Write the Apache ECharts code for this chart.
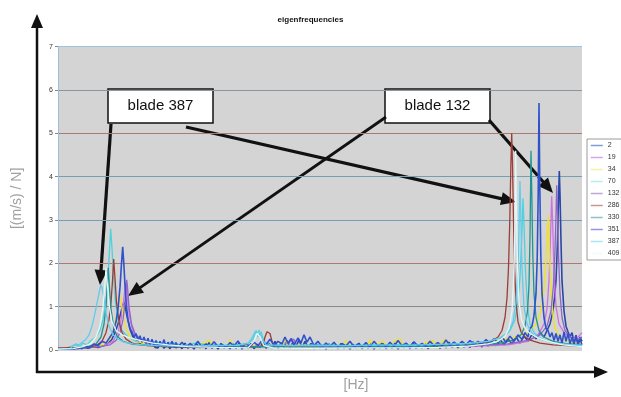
<!DOCTYPE html>
<html>
<head>
<meta charset="utf-8">
<script src="https://cdn.jsdelivr.net/npm/echarts@6/dist/echarts.min.js"></script>
<style>html,body{margin:0;padding:0;background:#fff;}#c{width:621px;height:397px;}</style>
</head>
<body>
<div id="c"></div>
<script>
// ---- data (x = frequency position, y = [(m/s)/N]) ----
const seriesNames = ['2','19','34','70','132','286','330','351','387','409'];
const yTicks = [0,1,2,3,4,5,6,7];

const s2 = [[0,0.02],[5,0.03],[10,0.02],[15,0.04],[20,0.03],[25,0.07],[30,0.04],[35,0.08],[40,0.06],[45,0.1],[50,0.15],[54,0.25],[57,0.4],[60,0.6],[63,0.88],[65,1.05],[66,1.1],[67,1.02],[69,0.78],[72,0.48],[75,0.3],[78,0.24],[82,0.15],[86,0.22],[90,0.1],[94,0.2],[97,0.06],[100,0.05],[103,0.16],[106,0.04],[109,0.14],[112,0.03],[115,0.15],[118,0.05],[121,0.12],[124,0.03],[127,0.16],[130,0.04],[133,0.11],[136,0.02],[139,0.14],[142,0.05],[145,0.13],[148,0.03],[151,0.17],[154,0.04],[157,0.12],[160,0.02],[163,0.15],[166,0.05],[169,0.11],[172,0.03],[175,0.14],[178,0.04],[181,0.16],[184,0.02],[187,0.12],[190,0.05],[193,0.15],[196,0.03],[199,0.13],[202,0.06],[205,0.18],[208,0.04],[211,0.15],[214,0.05],[217,0.2],[220,0.04],[223,0.16],[226,0.06],[229,0.22],[232,0.05],[235,0.18],[238,0.07],[241,0.24],[244,0.05],[247,0.2],[250,0.06],[253,0.15],[256,0.03],[259,0.13],[262,0.04],[265,0.11],[268,0.02],[271,0.14],[274,0.05],[277,0.12],[280,0.03],[283,0.15],[286,0.04],[289,0.11],[292,0.02],[295,0.13],[298,0.05],[301,0.16],[304,0.03],[307,0.12],[310,0.04],[313,0.14],[316,0.02],[319,0.11],[322,0.05],[325,0.15],[328,0.03],[331,0.13],[334,0.04],[337,0.16],[340,0.02],[343,0.12],[346,0.05],[349,0.14],[352,0.03],[355,0.17],[358,0.04],[361,0.12],[364,0.05],[367,0.15],[370,0.03],[373,0.13],[376,0.06],[379,0.16],[382,0.04],[385,0.14],[388,0.05],[391,0.18],[394,0.06],[397,0.13],[400,0.05],[403,0.17],[406,0.07],[409,0.15],[412,0.06],[415,0.19],[418,0.08],[421,0.16],[424,0.07],[427,0.2],[430,0.09],[434,0.22],[438,0.1],[442,0.24],[446,0.12],[450,0.26],[454,0.14],[458,0.3],[462,0.16],[466,0.32],[470,0.2],[474,0.36],[478,0.26],[482,0.4],[486,0.3],[489,0.45],[492,0.6],[494.5,0.85],[496.5,1.2],[498,1.6],[499.5,2.5],[500.5,3.5],[501.3,4.13],[502,3.6],[503,2.5],[504,1.6],[506,0.9],[508,0.55],[510,0.42],[512,0.3],[514,0.4],[516,0.2],[518,0.34],[520,0.16],[522,0.3],[524,0.2]];

const s19 = [[0,0.03],[15,0.05],[30,0.07],[45,0.1],[55,0.2],[60,0.4],[63,0.7],[65.5,1.1],[67.5,1.55],[69,1.3],[71,0.85],[74,0.5],[78,0.3],[85,0.2],[95,0.12],[110,0.09],[140,0.08],[170,0.07],[200,0.09],[215,0.06],[235,0.22],[238,0.1],[260,0.07],[300,0.08],[340,0.07],[380,0.08],[420,0.09],[450,0.12],[470,0.2],[480,0.35],[486,0.6],[489,0.95],[491,1.6],[492.5,2.6],[493.7,3.55],[494.7,2.9],[496,1.8],[498,1.0],[501,0.6],[506,0.4],[512,0.3],[518,0.25],[522,0.35],[524,0.4]];

const s34 = [[0,0.03],[20,0.06],[35,0.08],[45,0.12],[52,0.25],[56,0.5],[59,0.85],[61,1.15],[62,1.27],[63,1.15],[65,0.8],[68,0.5],[72,0.3],[78,0.2],[88,0.14],[100,0.1],[115,0.12],[125,0.08],[140,0.1],[152,0.22],[154,0.09],[170,0.1],[172,0.24],[175,0.1],[200,0.09],[225,0.1],[227,0.28],[230,0.12],[260,0.1],[285,0.12],[288,0.22],[291,0.1],[310,0.1],[312,0.24],[315,0.1],[325,0.2],[328,0.1],[342,0.26],[345,0.12],[360,0.1],[375,0.22],[378,0.1],[387,0.24],[390,0.12],[410,0.13],[430,0.18],[445,0.25],[460,0.3],[470,0.4],[478,0.6],[483,0.9],[486,1.4],[488,2.1],[489.5,2.8],[490.3,3.1],[491,2.7],[492,1.9],[493.5,1.2],[495,0.8],[497,0.5],[500,0.35],[505,0.25],[512,0.18],[524,0.15]];

const s70 = [[0,0.03],[10,0.04],[15,0.1],[18,0.14],[22,0.09],[25,0.16],[29,0.12],[32,0.2],[38,0.3],[42,0.45],[45,0.7],[48,1.1],[50,1.7],[51.5,2.3],[52.7,2.8],[54,2.35],[55.5,1.7],[57.5,1.1],[60,0.7],[64,0.45],[70,0.3],[78,0.2],[84,0.24],[90,0.15],[98,0.2],[105,0.12],[114,0.18],[125,0.1],[138,0.16],[150,0.12],[175,0.1],[190,0.15],[195,0.25],[198,0.45],[200,0.3],[203,0.42],[206,0.2],[212,0.12],[240,0.1],[270,0.12],[300,0.1],[330,0.12],[360,0.11],[390,0.13],[410,0.15],[430,0.2],[445,0.3],[452,0.45],[457,0.7],[460,1.1],[462,1.7],[463.8,2.6],[465,3.5],[466,2.9],[467.5,1.8],[469.5,1.0],[472,0.6],[476,0.4],[482,0.28],[490,0.2],[505,0.15],[524,0.12]];

const s132 = [[0,0.03],[20,0.05],[40,0.07],[52,0.12],[58,0.22],[62,0.4],[65,0.7],[67,1.1],[68,1.45],[68.7,1.62],[69.5,1.45],[71,1.0],[73.5,0.6],[77,0.38],[82,0.25],[90,0.16],[105,0.1],[130,0.08],[160,0.07],[200,0.08],[230,0.1],[233,0.26],[236,0.24],[239,0.1],[270,0.08],[320,0.07],[370,0.08],[420,0.1],[450,0.14],[470,0.22],[482,0.35],[489,0.55],[493,0.9],[495.5,1.5],[497,2.3],[498,3.1],[498.7,3.8],[499.5,3.2],[500.5,2.2],[502,1.3],[504,0.75],[507,0.45],[512,0.3],[518,0.22],[524,0.3]];

const s286 = [[0,0.05],[6,0.05],[12,0.06],[16,0.05],[20,0.04],[30,0.06],[38,0.1],[44,0.2],[48,0.4],[51,0.7],[53,1.1],[54.5,1.6],[55.7,2.1],[57,1.65],[58.5,1.1],[61,0.65],[64,0.4],[68,0.25],[75,0.15],[90,0.1],[110,0.07],[140,0.06],[170,0.06],[200,0.07],[205,0.1],[207,0.3],[209,0.42],[212,0.38],[214,0.2],[216,0.1],[230,0.07],[270,0.06],[320,0.07],[370,0.08],[400,0.1],[420,0.14],[432,0.18],[440,0.3],[444,0.45],[447,0.75],[449,1.2],[450.5,1.9],[451.8,3.0],[452.8,4.2],[453.7,5.0],[454.5,4.3],[455.5,3.0],[456.5,1.9],[458,1.1],[460,0.65],[463,0.42],[467,0.3],[473,0.22],[482,0.16],[495,0.12],[510,0.1],[524,0.09]];

const s330 = [[0,0.02],[15,0.04],[30,0.08],[38,0.14],[43,0.3],[46,0.6],[48,1.0],[49.3,1.5],[50.3,1.9],[51.3,1.5],[53,0.95],[55.5,0.55],[59,0.32],[65,0.2],[75,0.13],[95,0.1],[120,0.08],[160,0.07],[200,0.08],[250,0.07],[300,0.08],[350,0.08],[400,0.1],[440,0.15],[455,0.22],[463,0.35],[467,0.55],[469.5,0.9],[471,1.5],[472,2.6],[473,4.6],[473.8,3.6],[474.8,2.2],[476,1.3],[478,0.75],[481,0.45],[486,0.3],[495,0.2],[510,0.14],[524,0.12]];

const s351 = [[0,0.02],[4,0.03],[8,0.02],[12,0.03],[16,0.02],[20,0.06],[24,0.03],[28,0.09],[32,0.06],[36,0.14],[40,0.1],[44,0.2],[48,0.16],[52,0.3],[55,0.4],[58,0.65],[60,0.95],[62,1.45],[63.5,2.0],[64.7,2.38],[65.8,2.0],[67,1.5],[68.5,1.0],[70,0.7],[72,0.5],[74,0.42],[76,0.3],[78,0.38],[80,0.22],[82,0.33],[84,0.18],[86,0.3],[88,0.15],[90,0.27],[92,0.12],[94,0.25],[96,0.1],[98,0.22],[100,0.08],[102,0.2],[104,0.1],[106,0.24],[108,0.07],[110,0.18],[112,0.08],[114,0.2],[116,0.06],[118,0.17],[120,0.07],[124,0.18],[128,0.06],[132,0.15],[136,0.08],[140,0.2],[144,0.06],[148,0.14],[152,0.07],[156,0.19],[160,0.08],[164,0.13],[168,0.06],[172,0.17],[176,0.09],[180,0.21],[184,0.07],[188,0.15],[192,0.08],[196,0.18],[200,0.1],[204,0.22],[208,0.12],[212,0.25],[216,0.1],[220,0.2],[224,0.14],[227,0.3],[230,0.15],[233,0.26],[236,0.12],[240,0.28],[243,0.16],[246,0.35],[249,0.18],[252,0.3],[256,0.1],[260,0.2],[264,0.07],[268,0.16],[272,0.08],[276,0.18],[280,0.06],[284,0.15],[288,0.09],[292,0.2],[296,0.07],[300,0.14],[304,0.08],[308,0.17],[312,0.06],[316,0.2],[320,0.09],[324,0.15],[328,0.07],[332,0.18],[336,0.08],[340,0.22],[344,0.1],[348,0.16],[352,0.07],[356,0.19],[360,0.09],[364,0.15],[368,0.08],[372,0.2],[376,0.1],[380,0.17],[384,0.09],[388,0.23],[392,0.1],[396,0.18],[400,0.11],[404,0.2],[408,0.12],[412,0.22],[416,0.13],[420,0.2],[424,0.14],[428,0.24],[432,0.15],[436,0.26],[440,0.16],[444,0.3],[448,0.18],[452,0.32],[456,0.2],[460,0.35],[464,0.24],[467,0.4],[470,0.3],[472,0.5],[474,0.55],[476,0.8],[478,1.3],[479.2,2.1],[480.2,3.6],[481,5.7],[481.8,3.8],[482.8,2.2],[484,1.3],[486,0.75],[488,0.5],[490,0.45],[492,0.3],[494,0.4],[496,0.22],[498,0.38],[500,0.2],[502,0.35],[504,0.15],[506,0.42],[508,0.2],[510,0.38],[512,0.14],[514,0.3],[516,0.12],[518,0.32],[520,0.1],[522,0.25],[524,0.12]];

const s387 = [[0,0.02],[6,0.03],[12,0.03],[16,0.12],[20,0.1],[24,0.18],[28,0.25],[31,0.35],[34,0.55],[37,0.85],[40,1.2],[42,1.42],[43,1.5],[44,1.44],[46,1.2],[48,0.85],[51,0.55],[55,0.35],[60,0.25],[66,0.18],[75,0.14],[85,0.12],[100,0.1],[120,0.09],[150,0.1],[180,0.11],[190,0.15],[194,0.28],[197,0.42],[199,0.35],[201,0.46],[204,0.25],[208,0.12],[230,0.1],[260,0.11],[290,0.1],[320,0.12],[350,0.11],[380,0.13],[410,0.15],[430,0.2],[442,0.28],[450,0.4],[455,0.65],[458,1.1],[460,1.9],[461.2,3.0],[462,3.9],[462.8,3.1],[464,1.9],[466,1.0],[469,0.6],[474,0.38],[482,0.25],[495,0.17],[510,0.13],[524,0.11]];

const s409 = [[0,0.02],[15,0.03],[25,0.08],[33,0.15],[38,0.3],[42,0.55],[45,1.0],[47,1.55],[48,1.9],[49,1.6],[51,1.05],[54,0.65],[58,0.45],[64,0.35],[72,0.28],[82,0.22],[95,0.16],[110,0.12],[130,0.08],[160,0.06],[190,0.05],[196,0.2],[199,0.38],[202,0.3],[206,0.1],[215,0.05],[250,0.04],[300,0.05],[350,0.05],[380,0.06],[410,0.09],[430,0.14],[440,0.2],[447,0.32],[451,0.5],[454,0.9],[456,1.8],[457,3.0],[457.7,4.6],[458.4,3.2],[459.5,1.9],[461,1.1],[463.5,0.7],[467,0.5],[472,0.38],[480,0.28],[490,0.2],[505,0.12],[524,0.08]];

const seriesData = [s2, s19, s34, s70, s132, s286, s330, s351, s387, s409];

// ---- styles ----
const lineColors = ['#2a46a6','#d070e0','#f2e21e','#4cd2dc','#8c66c8','#9e3c36','#209494','#2f52cc','#60cbef','#e2f8f8'];
const lineWidths = [1.6, 1.3, 1.3, 1.3, 1.3, 1.3, 1.3, 1.6, 1.3, 1.3];
const legendColors = ['#7f9fd8','#d9a4e8','#f6f0a4','#b4eef0','#c0a8d4','#c89890','#88c0cc','#9494e0','#aae6f4','#f2fafa'];
const gridLineColors = ['#d4d4d4','#8a8a8a','#b07a70','#72a0b2','#72a0b2','#a87a70','#8a96a0','#9cc4dc'];

const chart = echarts.init(document.getElementById('c'), null, {renderer:'canvas'});

function arrow(x1, y1, x2, y2, w, hl, hw) {
  const dx = x2 - x1, dy = y2 - y1, L = Math.sqrt(dx*dx + dy*dy);
  const ux = dx / L, uy = dy / L, px = -uy, py = ux;
  const bx = x2 - ux*hl, by = y2 - uy*hl;
  return {
    type: 'group',
    children: [
      {type:'line', shape:{x1:x1, y1:y1, x2:bx + ux*2, y2:by + uy*2}, style:{stroke:'#111', lineWidth:w}},
      {type:'polygon', shape:{points:[[x2,y2],[bx + px*hw, by + py*hw],[bx - px*hw, by - py*hw]]}, style:{fill:'#111'}}
    ]
  };
}

function box(x, y, w, h, label) {
  return {
    type:'group',
    children:[
      {type:'rect', shape:{x:x, y:y, width:w, height:h}, style:{fill:'#fff', stroke:'#111', lineWidth:1.5}},
      {type:'text', x:x + w/2, y:y + h/2, style:{text:label, fill:'#111', font:'15px "Liberation Sans", Arial, sans-serif', align:'center', verticalAlign:'middle'}}
    ]
  };
}

const option = {
  animation: false,
  backgroundColor: '#ffffff',
  title: {
    text: 'eigenfrequencies', left: 'center', top: 11,
    textStyle: {fontSize: 8, fontWeight: 'bold', color: '#111', fontFamily: '"Liberation Sans", Arial, sans-serif'}
  },
  grid: {left: 58, right: 39, top: 46.7, bottom: 47, show: true, backgroundColor: '#d4d4d4', borderWidth: 0},
  legend: {
    orient: 'vertical', left: 587, top: 139,
    backgroundColor: '#fff', borderColor: '#9a9a9a', borderWidth: 1,
    padding: [3, 2, 3, 3],
    itemWidth: 12, itemHeight: 7, itemGap: 5,
    textStyle: {fontSize: 7, color: '#333', fontFamily: '"Liberation Sans", Arial, sans-serif'},
    data: seriesNames.map((n, i) => ({name: n, lineStyle: {color: legendColors[i], width: 1.5}, itemStyle: {color: 'rgba(0,0,0,0)', opacity: 0, borderWidth: 0}}))
  },
  xAxis: {
    type: 'value', min: 0, max: 524,
    axisLine: {show: false}, axisTick: {show: false}, axisLabel: {show: false}, splitLine: {show: false}
  },
  yAxis: {
    type: 'value', min: yTicks[0], max: yTicks[yTicks.length - 1], interval: 1,
    name: '[(m/s) / N]', nameLocation: 'middle', nameGap: 34, nameRotate: 90,
    nameTextStyle: {fontSize: 14, color: '#a0a0a0', fontFamily: '"Liberation Sans", Arial, sans-serif'},
    axisLine: {show: true, lineStyle: {color: '#96c0dc', width: 1}},
    axisTick: {show: true, length: 3, lineStyle: {color: '#888'}},
    axisLabel: {fontSize: 7, color: '#333', margin: 5, fontFamily: '"Liberation Sans", Arial, sans-serif'},
    splitLine: {show: true, lineStyle: {color: gridLineColors, width: 1}}
  },
  series: seriesNames.map((n, i) => ({
    name: n, type: 'line', data: seriesData[i], symbol: 'none', showSymbol: false,
    lineStyle: {color: lineColors[i], width: lineWidths[i]}, itemStyle: {color: lineColors[i]},
    silent: true, z: 2 + i
  })),
  graphic: [
    arrow(37, 373, 37, 14, 2.5, 14, 6),
    arrow(36, 372, 608, 372, 2.5, 14, 6),
    {type:'text', x: 356, y: 385, style:{text:'[Hz]', fill:'#a0a0a0', font:'14px "Liberation Sans", Arial, sans-serif', align:'center', verticalAlign:'middle'}},
    box(108, 89, 105, 34, 'blade 387'),
    box(385, 89, 105, 34, 'blade 132'),
    arrow(111, 124, 100, 285, 3.2, 15, 6.5),
    arrow(186, 127, 516, 202, 3.2, 15, 6.5),
    arrow(386, 117, 128, 296, 2.8, 15, 6.5),
    arrow(489, 120, 553, 193, 3.2, 15, 6.5)
  ]
};
chart.setOption(option);
</script>
</body>
</html>
